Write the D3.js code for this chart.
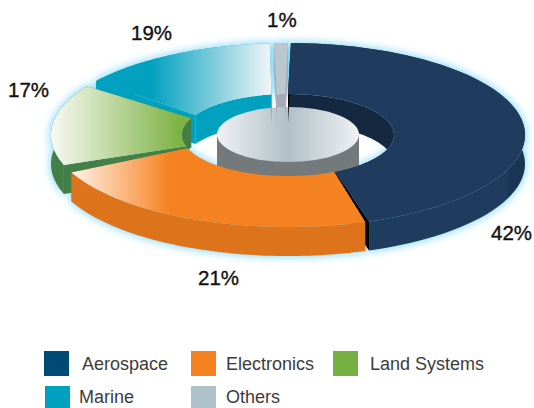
<!DOCTYPE html>
<html>
<head>
<meta charset="utf-8">
<script src="https://cdn.jsdelivr.net/npm/d3@7"></script>
<style>
  html, body { margin: 0; padding: 0; background: #fff; }
  svg { display: block; }
  text { font-family: "Liberation Sans", Arial, sans-serif; }
</style>
</head>
<body>
<svg id="chart" width="534" height="408"></svg>
<script>
// Revenue share by segment
const categories = ["Aerospace", "Electronics", "Land Systems", "Marine", "Others"];
const shares = [42, 21, 17, 19, 1];

const legendColors = ["#004b75", "#f58220", "#76b043", "#00a0bf", "#afc1ca"];
const sideColors = ["url(#sideAerospace)", "#dd731b", "#437f46", "#00a0bf", "#a7a9b6"];
const wallColors = ["#14293f", "#dd731b", "#437f46", "#00a0bf", "#a7a9b6"];
const faceColors = ["#000000", "#dd731b", "#437f46", "#00a0bf", "#a7a9b6"];
const topFills = ["#1f3c5e", "url(#topElectronics)", "url(#topLand)", "url(#topMarine)", "#b9c7cf"];

// Ring geometry of the tilted disc
const cx = 288, cy = 135, outerRx = 237, outerRy = 92, innerRx = 106, innerRy = 41, depth = 29;

const svg = d3.select("#chart");
const defs = svg.append("defs");

function horizontalGradient(id, x1, x2, stops) {
  const g = defs.append("linearGradient")
    .attr("id", id).attr("gradientUnits", "userSpaceOnUse")
    .attr("x1", x1).attr("x2", x2).attr("y1", 0).attr("y2", 0);
  stops.forEach(([o, c]) => g.append("stop").attr("offset", o).attr("stop-color", c));
}
horizontalGradient("topElectronics", 72, 170, [[0, "#fff3ea"], [1, "#f58220"]]);
horizontalGradient("topLand", 50, 180, [[0, "#f9faf5"], [1, "#7db244"]]);
horizontalGradient("topMarine", 150, 272, [[0, "#00a0bf"], [1, "#f2f5f7"]]);
horizontalGradient("cylinderTop", 217, 359, [[0, "#f0f2f4"], [0.5, "#b1bfc7"], [1, "#f0f2f4"]]);
horizontalGradient("sideAerospace", 360, 526, [[0, "#1f3c5e"], [0.89, "#1f3c5e"], [0.89, "#1a3654"], [1, "#1a3654"]]);

defs.append("filter").attr("id", "glow")
  .attr("filterUnits", "userSpaceOnUse")
  .attr("x", 0).attr("y", 0).attr("width", 534).attr("height", 320)
  .append("feGaussianBlur").attr("stdDeviation", 4.5);

// Cumulative share angles, foreshortened by the tilt of the disc
const arcs = d3.pie().value(d => d).sort(null)(shares);
const boundaries = [0].concat(arcs.map(a => a.endAngle));
const rimAngle = d3.scaleLinear().domain(boundaries).range([0.35, 160.5, 248.5, 304, 356.1, 360.35]);
const rimGap = d3.scaleLinear().domain(boundaries).range([0.35, 0.5, 2.5, 2, 0.5, 0.35]);
const holeAngle = d3.scaleLinear().domain(boundaries).range([-0.8, 154, 252.5, 296.5, 352.5, 359.2]);
const holeGap = d3.scaleLinear().domain(boundaries).range([0.8, 0.2, 1.5, 2.5, 1.5, 0.8]);

const rimPoint = (deg, z) => {
  const a = deg * Math.PI / 180;
  return [cx + outerRx * Math.sin(a), cy - outerRy * Math.cos(a) + z];
};
const holePoint = (deg, z) => {
  const a = deg * Math.PI / 180;
  return [cx + innerRx * Math.sin(a), cy - innerRy * Math.cos(a) + z];
};
const sweep = (from, to, pointAt, z) =>
  d3.range(0, 1.0001, 1 / 60).map(t => pointAt(from + (to - from) * t, z));
const outline = d3.line();
const closed = pts => outline(pts) + "Z";

// Screen outline pieces of one ring segment
const segments = arcs.map(a => {
  const r0 = rimAngle(a.startAngle) + rimGap(a.startAngle);
  const r1 = rimAngle(a.endAngle) - rimGap(a.endAngle);
  const h0 = holeAngle(a.startAngle) + holeGap(a.startAngle);
  const h1 = holeAngle(a.endAngle) - holeGap(a.endAngle);
  return {
    top: closed(sweep(r0, r1, rimPoint, 0).concat(sweep(h1, h0, holePoint, 0))),
    side: closed(sweep(r0, r1, rimPoint, 0).concat(sweep(r1, r0, rimPoint, depth))),
    wall: closed(sweep(h0, h1, holePoint, 0).concat(sweep(h1, h0, holePoint, depth))),
    faceStart: closed([rimPoint(r0, 0), holePoint(h0, 0), holePoint(h0, depth), rimPoint(r0, depth)]),
    faceEnd: closed([rimPoint(r1, 0), holePoint(h1, 0), holePoint(h1, depth), rimPoint(r1, depth)])
  };
});

// Soft halo behind the whole ring
const halo = svg.append("g").attr("filter", "url(#glow)")
  .attr("fill", "#86d9f6").attr("stroke", "#86d9f6").attr("stroke-width", 2);
segments.forEach(s => {
  halo.append("path").attr("d", s.side);
  halo.append("path").attr("d", s.top);
});

// Inner walls, seen through the hole at the back of the ring
const aerospace = 0, electronics = 1, land = 2, marine = 3, others = 4;
[marine, others, aerospace, land].forEach(i => {
  svg.append("path").attr("d", segments[i].wall).attr("fill", wallColors[i]);
});

// Central hub
const hubRx = 71, hubRy = 27.5, hubY = 134.5, hubDepth = 34;
svg.append("path")
  .attr("d", `M${cx - hubRx},${hubY}V${hubY + hubDepth}A${hubRx},${hubRy} 0 0 0 ${cx + hubRx},${hubY + hubDepth}V${hubY}Z`)
  .attr("fill", "#74797c");
svg.append("ellipse")
  .attr("cx", cx).attr("cy", hubY).attr("rx", hubRx).attr("ry", hubRy)
  .attr("fill", "url(#cylinderTop)");

function paintBody(i) {
  svg.append("path").attr("d", segments[i].faceStart).attr("fill", faceColors[i]);
  svg.append("path").attr("d", segments[i].faceEnd).attr("fill", faceColors[i]);
  svg.append("path").attr("d", segments[i].side).attr("fill", sideColors[i]);
}
function paintTop(i) {
  svg.append("path").attr("d", segments[i].top).attr("fill", topFills[i]);
}

// Painted back to front; the Aerospace top goes last so its edge overlaps Electronics
[marine, others, land].forEach(i => { paintBody(i); paintTop(i); });
paintBody(aerospace);
paintBody(electronics);
paintTop(electronics);
paintTop(aerospace);

// Percentage labels
const labelSpots = [[491, 240], [198, 285], [8, 97], [131, 40], [267, 27]];
svg.append("g").selectAll("text").data(shares).join("text")
  .attr("x", (d, i) => labelSpots[i][0])
  .attr("y", (d, i) => labelSpots[i][1])
  .attr("font-size", 20.5)
  .attr("fill", "#111")
  .attr("stroke", "#111").attr("stroke-width", 0.35)
  .text(d => d + "%");

// Legend
const swatchSpots = [[44, 351], [191, 351], [333, 351], [45, 386], [191, 386]];
const legendTextSpots = [[82, 370], [226, 370], [370, 370], [79, 403], [226, 403]];
const legend = svg.append("g");
legend.selectAll("rect").data(categories).join("rect")
  .attr("x", (d, i) => swatchSpots[i][0])
  .attr("y", (d, i) => swatchSpots[i][1])
  .attr("width", 25)
  .attr("height", (d, i) => i < 3 ? 25 : 22)
  .attr("fill", (d, i) => legendColors[i]);
legend.selectAll("text").data(categories).join("text")
  .attr("x", (d, i) => legendTextSpots[i][0])
  .attr("y", (d, i) => legendTextSpots[i][1])
  .attr("font-size", 18)
  .attr("fill", "#3c3c3c")
  .text(d => d);
</script>
</body>
</html>
